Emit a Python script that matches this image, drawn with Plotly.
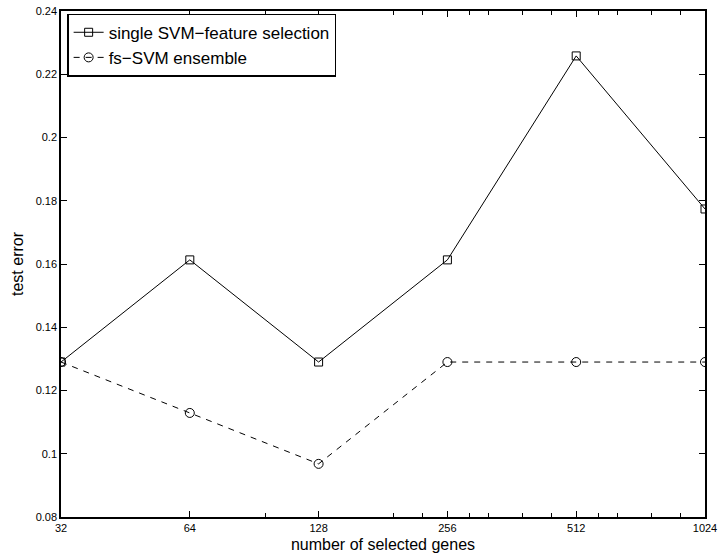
import plotly.graph_objects as go
import math

genes = [32, 64, 128, 256, 512, 1024]
single_svm = [0.129, 0.1613, 0.129, 0.1613, 0.2258, 0.1774]
fs_ensemble = [0.129, 0.1129, 0.0968, 0.129, 0.129, 0.129]

x_ticks = [32, 64, 128, 256, 512, 1024]
x_minor = [96, 192, 224, 288, 320, 384, 448, 576, 640, 768, 896]
y_ticks = [0.08, 0.1, 0.12, 0.14, 0.16, 0.18, 0.2, 0.22, 0.24]
y_ticktext = ["0.08", "0.1", "0.12", "0.14", "0.16", "0.18", "0.2", "0.22", "0.24"]

FONT = "Liberation Sans, Arial, Helvetica, sans-serif"

fig = go.Figure()
fig.add_trace(go.Scatter(
    x=genes, y=single_svm, mode="lines+markers",
    name="single SVM\u2212feature selection",
    line=dict(color="black", width=1),
    marker=dict(symbol="square-open", size=8, color="black", line=dict(width=1)),
))
fig.add_trace(go.Scatter(
    x=genes, y=fs_ensemble, mode="lines+markers",
    name="fs\u2212SVM ensemble",
    line=dict(color="black", width=1, dash="6px,6px"),
    marker=dict(symbol="circle-open", size=9, color="black", line=dict(width=1)),
))

axis_common = dict(
    showgrid=False, zeroline=False, showline=True, linecolor="black", linewidth=1.5,
    mirror="ticks", ticks="inside", ticklen=6, tickwidth=1, tickcolor="black",
    tickfont=dict(family=FONT, size=11, color="black"),
    automargin=False,
)

fig.update_layout(
    width=720, height=560,
    margin=dict(l=61, r=15, t=11, b=43),
    paper_bgcolor="white", plot_bgcolor="white",
    font=dict(family=FONT, color="black"),
    xaxis=dict(
        type="log", range=[math.log10(32), math.log10(1024)],
        tickmode="array", tickvals=x_ticks, ticktext=[str(v) for v in x_ticks],
        minor=dict(tickmode="array", tickvals=x_minor, ticks="inside", ticklen=4,
                   tickcolor="black", tickwidth=1, showgrid=False),
        title=dict(text="number of selected genes", font=dict(family=FONT, size=16), standoff=6),
        **axis_common,
    ),
    yaxis=dict(
        range=[0.08, 0.24],
        tickmode="array", tickvals=y_ticks, ticktext=y_ticktext,
        title=dict(text="test error", font=dict(family=FONT, size=16), standoff=8),
        **axis_common,
    ),
    legend=dict(
        x=0.01, y=0.995, xanchor="left", yanchor="top",
        bgcolor="white", bordercolor="black", borderwidth=1.2,
        font=dict(family=FONT, size=17, color="black"),
        tracegroupgap=0, itemwidth=30,
    ),
)

fig.write_html("out.html")
